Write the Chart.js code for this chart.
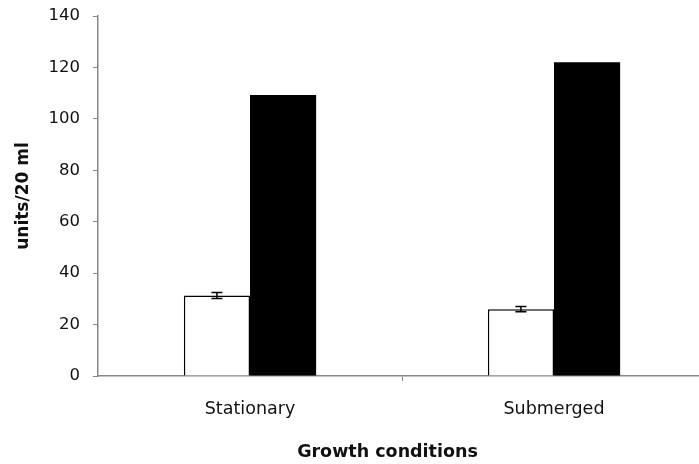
<!DOCTYPE html>
<html>
<head>
<meta charset="utf-8">
<script src="https://cdn.jsdelivr.net/npm/chart.js@4/dist/chart.umd.min.js"></script>
<style>
html,body{margin:0;padding:0;background:#fff;overflow:hidden;}
#wrap{width:712px;height:464px;position:relative;}
</style>
</head>
<body>
<div id="wrap"><canvas id="c" width="712" height="464"></canvas></div>
<script>
const categories = ['Stationary', 'Submerged'];
const whiteValues = [31.3, 26.0];
const whiteErrors = [1.2, 1.0];
const blackValues = [109.3, 122.0];
const yTicks = [0, 20, 40, 60, 80, 100, 120, 140];
const yTitle = 'units/20 ml';
const xTitle = 'Growth conditions';

const errorBars = {
  id: 'errorBars',
  afterDatasetsDraw(chart) {
    const ctx = chart.ctx;
    const meta = chart.getDatasetMeta(0);
    const ys = chart.scales.y;
    ctx.save();
    ctx.strokeStyle = '#000';
    ctx.lineWidth = 1.5;
    meta.data.forEach((bar, i) => {
      const v = whiteValues[i], e = whiteErrors[i];
      const yTop = ys.getPixelForValue(v + e);
      const yBot = ys.getPixelForValue(v - e);
      const x = bar.x;
      ctx.beginPath();
      ctx.moveTo(x, yTop); ctx.lineTo(x, yBot);
      ctx.moveTo(x - 5.5, yTop); ctx.lineTo(x + 5.5, yTop);
      ctx.moveTo(x - 5.5, yBot); ctx.lineTo(x + 5.5, yBot);
      ctx.stroke();
    });
    ctx.restore();
  }
};

const xTitlePlugin = {
  id: 'xTitlePlugin',
  afterDraw(chart) {
    const ctx = chart.ctx;
    ctx.save();
    ctx.font = 'bold 17.5px "DejaVu Sans"';
    ctx.fillStyle = '#111';
    ctx.textAlign = 'center';
    ctx.textBaseline = 'middle';
    ctx.fillText(xTitle, 387.5, 452);
    ctx.restore();
  }
};

new Chart(document.getElementById('c'), {
  type: 'bar',
  data: {
    labels: categories,
    datasets: [
      {
        data: whiteValues,
        backgroundColor: '#ffffff',
        borderColor: '#000000',
        borderWidth: 1.5,
        borderSkipped: 'bottom'
      },
      {
        data: blackValues,
        backgroundColor: '#000000',
        borderColor: '#000000',
        borderWidth: 0
      }
    ]
  },
  options: {
    responsive: false,
    animation: false,
    devicePixelRatio: 1,
    layout: { padding: { top: 16, right: 6, left: 0, bottom: 0 } },
    plugins: { legend: { display: false }, tooltip: { enabled: false }, title: { display: false } },
    datasets: { bar: { categoryPercentage: 0.435, barPercentage: 1.0 } },
    scales: {
      x: {
        afterFit(s) { s.height = 88; s.paddingLeft = 0; s.paddingRight = 0; },
        grid: { offset: true, drawOnChartArea: false, tickLength: 5, lineWidth: 1,
                color: (c) => c.index === 0 ? 'rgba(0,0,0,0)' : '#888' },
        border: { color: '#888', width: 1.5 },
        ticks: { color: '#111', font: { family: 'DejaVu Sans', size: 17.5 }, padding: 18 }
      },
      y: {
        min: 0, max: 140,
        afterFit(s) { s.width = 98; s.paddingTop = 0; s.paddingBottom = 0; },
        afterBuildTicks(s) { s.ticks = yTicks.map(v => ({ value: v })); },
        grid: { drawOnChartArea: false, tickLength: 5, color: '#888', lineWidth: 1 },
        border: { color: '#888', width: 1.5 },
        ticks: { color: '#111', font: { family: 'DejaVu Sans', size: 16.5 }, padding: 13 },
        title: { display: true, text: yTitle, color: '#111', font: { family: 'DejaVu Sans', size: 17, weight: 'bold' }, padding: { top: 13, bottom: 0 } }
      }
    }
  },
  plugins: [errorBars, xTitlePlugin]
});
</script>
</body>
</html>
